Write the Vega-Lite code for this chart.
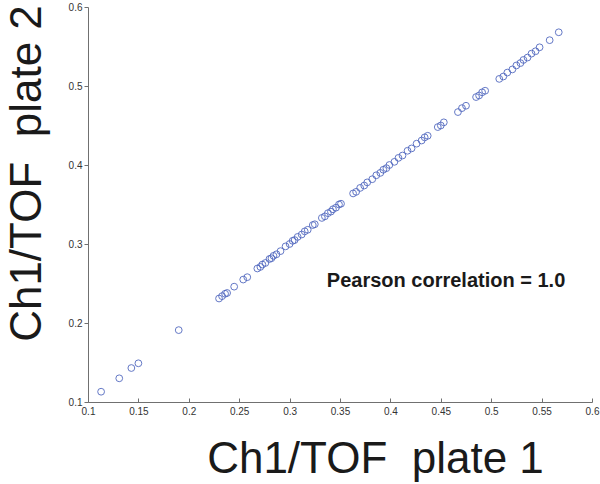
{
  "$schema": "https://vega.github.io/schema/vega-lite/v6.json",
  "autosize": {"type": "none"},
  "width": 504,
  "height": 395,
  "padding": {"left": 88, "top": 7, "right": 8, "bottom": 82},
  "background": "white",
  "config": {
    "view": {"stroke": null},
    "font": "Liberation Sans"
  },
  "datasets": {
    "points": [
      {"p1": 0.113, "p2": 0.113}, {"p1": 0.131, "p2": 0.130}, {"p1": 0.143, "p2": 0.143}, {"p1": 0.150, "p2": 0.149},
      {"p1": 0.190, "p2": 0.191}, {"p1": 0.230, "p2": 0.231}, {"p1": 0.233, "p2": 0.234}, {"p1": 0.236, "p2": 0.237},
      {"p1": 0.238, "p2": 0.238}, {"p1": 0.245, "p2": 0.246}, {"p1": 0.254, "p2": 0.255}, {"p1": 0.258, "p2": 0.258},
      {"p1": 0.268, "p2": 0.269}, {"p1": 0.271, "p2": 0.271}, {"p1": 0.273, "p2": 0.274}, {"p1": 0.276, "p2": 0.276},
      {"p1": 0.280, "p2": 0.281}, {"p1": 0.282, "p2": 0.282}, {"p1": 0.284, "p2": 0.285}, {"p1": 0.287, "p2": 0.287},
      {"p1": 0.291, "p2": 0.291}, {"p1": 0.296, "p2": 0.297}, {"p1": 0.300, "p2": 0.300}, {"p1": 0.303, "p2": 0.304},
      {"p1": 0.305, "p2": 0.305}, {"p1": 0.308, "p2": 0.309}, {"p1": 0.312, "p2": 0.312}, {"p1": 0.315, "p2": 0.316},
      {"p1": 0.318, "p2": 0.318}, {"p1": 0.323, "p2": 0.324}, {"p1": 0.325, "p2": 0.325}, {"p1": 0.332, "p2": 0.333},
      {"p1": 0.335, "p2": 0.335}, {"p1": 0.338, "p2": 0.339}, {"p1": 0.341, "p2": 0.341}, {"p1": 0.343, "p2": 0.344},
      {"p1": 0.346, "p2": 0.346}, {"p1": 0.349, "p2": 0.350}, {"p1": 0.351, "p2": 0.351}, {"p1": 0.363, "p2": 0.364},
      {"p1": 0.366, "p2": 0.366}, {"p1": 0.370, "p2": 0.371}, {"p1": 0.374, "p2": 0.374}, {"p1": 0.377, "p2": 0.378},
      {"p1": 0.382, "p2": 0.382}, {"p1": 0.386, "p2": 0.387}, {"p1": 0.390, "p2": 0.390}, {"p1": 0.393, "p2": 0.394},
      {"p1": 0.396, "p2": 0.396}, {"p1": 0.399, "p2": 0.400}, {"p1": 0.404, "p2": 0.404}, {"p1": 0.408, "p2": 0.409},
      {"p1": 0.412, "p2": 0.412}, {"p1": 0.417, "p2": 0.418}, {"p1": 0.421, "p2": 0.421}, {"p1": 0.426, "p2": 0.427},
      {"p1": 0.431, "p2": 0.431}, {"p1": 0.434, "p2": 0.435}, {"p1": 0.437, "p2": 0.437}, {"p1": 0.447, "p2": 0.448},
      {"p1": 0.450, "p2": 0.450}, {"p1": 0.453, "p2": 0.454}, {"p1": 0.467, "p2": 0.467}, {"p1": 0.471, "p2": 0.472},
      {"p1": 0.475, "p2": 0.475}, {"p1": 0.485, "p2": 0.486}, {"p1": 0.488, "p2": 0.488}, {"p1": 0.491, "p2": 0.492},
      {"p1": 0.494, "p2": 0.494}, {"p1": 0.508, "p2": 0.509}, {"p1": 0.512, "p2": 0.512}, {"p1": 0.516, "p2": 0.517},
      {"p1": 0.521, "p2": 0.521}, {"p1": 0.525, "p2": 0.526}, {"p1": 0.529, "p2": 0.529}, {"p1": 0.532, "p2": 0.533},
      {"p1": 0.536, "p2": 0.536}, {"p1": 0.540, "p2": 0.541}, {"p1": 0.544, "p2": 0.544}, {"p1": 0.548, "p2": 0.549},
      {"p1": 0.558, "p2": 0.558}, {"p1": 0.567, "p2": 0.568}
    ],
    "note": [{"p1": 0.4552, "p2": 0.2456, "label": "Pearson correlation = 1.0"}]
  },
  "layer": [
    {
      "data": {"name": "points"},
      "mark": {"type": "point", "shape": "circle", "filled": false, "size": 46, "strokeWidth": 1, "color": "#4a62bd", "opacity": 0.85},
      "encoding": {
        "x": {
          "field": "p1", "type": "quantitative",
          "scale": {"domain": [0.1, 0.6], "nice": false, "zero": false},
          "axis": {
            "values": [0.1, 0.15, 0.2, 0.25, 0.3, 0.35, 0.4, 0.45, 0.5, 0.55, 0.6],
            "format": "~g",
            "grid": false, "domainColor": "#707070", "tickColor": "#707070", "tickSize": -4,
            "labelPadding": 8, "labelFontSize": 10, "labelColor": "#333333", "labelFont": "Liberation Sans",
            "labelFlush": false, "labelOverlap": false,
            "title": "Ch1/TOF\u00a0\u00a0plate 1", "titleFontSize": 44, "titleFontWeight": "normal", "titleColor": "#1a1a1a",
            "titleFont": "Liberation Sans", "titleX": 287, "titleY": 70, "titleAlign": "center", "titleBaseline": "alphabetic"
          }
        },
        "y": {
          "field": "p2", "type": "quantitative",
          "scale": {"domain": [0.1, 0.6], "nice": false, "zero": false},
          "axis": {
            "values": [0.1, 0.15, 0.2, 0.25, 0.3, 0.35, 0.4, 0.45, 0.5, 0.55, 0.6],
            "format": "~g",
            "grid": false, "domainColor": "#707070", "tickColor": "#707070", "tickSize": 4,
            "labelPadding": 2, "labelFontSize": 10, "labelColor": "#333333", "labelFont": "Liberation Sans",
            "labelFlush": false, "labelOverlap": false,
            "title": "Ch1/TOF\u00a0\u00a0plate 2", "titleFontSize": 44, "titleFontWeight": "normal", "titleColor": "#1a1a1a",
            "titleFont": "Liberation Sans", "titleX": -48, "titleY": 166, "titleAngle": -90, "titleAlign": "center", "titleBaseline": "alphabetic"
          }
        }
      }
    },
    {
      "data": {"name": "note"},
      "mark": {"type": "text", "font": "Liberation Sans", "fontSize": 20, "fontWeight": "bold", "color": "#1a1a1a", "align": "center", "baseline": "alphabetic"},
      "encoding": {
        "x": {"field": "p1", "type": "quantitative"},
        "y": {"field": "p2", "type": "quantitative"},
        "text": {"field": "label"}
      }
    }
  ]
}
